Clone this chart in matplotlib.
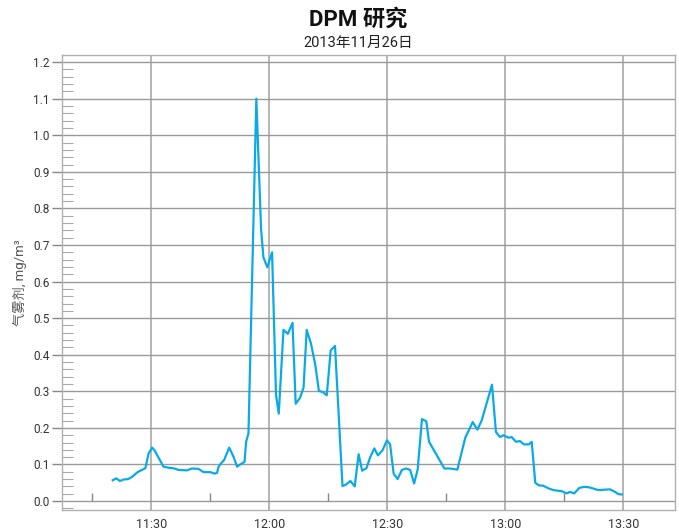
import numpy as np
import pandas as pd
import matplotlib
matplotlib.use("Agg")
import matplotlib.pyplot as plt
import matplotlib.dates as mdates
from matplotlib.ticker import MultipleLocator, FormatStrFormatter

plt.rcParams['font.family'] = ['Roboto', 'Noto Sans CJK SC', 'DejaVu Sans']

# sample times and aerosol concentration (mg/m3)
times = ["11:20:12", "11:21:06", "11:22:00", "11:23:00", "11:24:06", "11:25:06",
         "11:26:30", "11:27:36", "11:28:30", "11:29:18", "11:30:12", "11:30:48",
         "11:33:06", "11:34:24", "11:35:54", "11:36:54", "11:39:06", "11:40:18",
         "11:42:00", "11:43:18", "11:45:00", "11:46:06", "11:46:42", "11:47:06",
         "11:47:48", "11:48:30", "11:49:48", "11:50:54", "11:51:48", "11:52:36",
         "11:53:42", "11:54:06", "11:54:42", "11:56:42", "11:57:54", "11:58:30",
         "11:59:30", "12:00:42", "12:01:42", "12:02:24", "12:03:36", "12:04:42",
         "12:05:54", "12:06:42", "12:07:48", "12:08:42", "12:09:30", "12:10:36",
         "12:11:42", "12:12:36", "12:13:36", "12:14:36", "12:15:36", "12:16:42",
         "12:18:36", "12:19:30", "12:20:36", "12:21:42", "12:22:42", "12:23:36",
         "12:24:42", "12:25:36", "12:26:42", "12:27:36", "12:28:48", "12:29:54",
         "12:30:42", "12:31:36", "12:32:36", "12:33:42", "12:34:48", "12:35:48",
         "12:36:48", "12:37:42", "12:38:48", "12:39:54", "12:40:36", "12:44:30",
         "12:45:54", "12:47:48", "12:49:48", "12:51:42", "12:52:54", "12:54:00",
         "12:56:36", "12:57:36", "12:58:36", "12:59:30", "13:00:48", "13:01:36",
         "13:02:42", "13:03:42", "13:04:42", "13:06:00", "13:06:42", "13:07:36",
         "13:08:30", "13:09:36", "13:10:54", "13:12:12", "13:14:18", "13:15:36",
         "13:16:24", "13:17:30", "13:18:48", "13:20:12", "13:21:30", "13:23:36",
         "13:26:36", "13:27:54", "13:28:42", "13:29:36"]
aerosol = [0.057, 0.062, 0.055, 0.059, 0.060, 0.066,
           0.079, 0.085, 0.090, 0.130, 0.146, 0.139,
           0.094, 0.091, 0.089, 0.085, 0.084, 0.089,
           0.088, 0.079, 0.079, 0.075, 0.077, 0.094,
           0.104, 0.112, 0.146, 0.121, 0.094, 0.100,
           0.107, 0.162, 0.185, 1.100, 0.744, 0.666,
           0.639, 0.680, 0.290, 0.239, 0.468, 0.457,
           0.487, 0.266, 0.282, 0.310, 0.468, 0.430,
           0.371, 0.301, 0.298, 0.289, 0.412, 0.424,
           0.041, 0.045, 0.055, 0.040, 0.128, 0.083,
           0.090, 0.119, 0.144, 0.125, 0.139, 0.166,
           0.155, 0.075, 0.060, 0.085, 0.089, 0.085,
           0.048, 0.086, 0.224, 0.218, 0.162, 0.089,
           0.089, 0.086, 0.173, 0.216, 0.195, 0.221,
           0.318, 0.189, 0.175, 0.180, 0.173, 0.175,
           0.162, 0.164, 0.155, 0.155, 0.162, 0.050,
           0.043, 0.042, 0.035, 0.030, 0.027, 0.021,
           0.025, 0.021, 0.036, 0.039, 0.037, 0.030,
           0.032, 0.025, 0.019, 0.018]

day = "2013-11-26 "
t = pd.to_datetime([day + s for s in times])

fig = plt.figure(figsize=(6.79, 5.30), dpi=100)
ax = fig.add_axes([0.0913, 0.0377, 0.9027, 0.8583])

grid_c = '#9a9a9a'
ax.plot(t, aerosol, color='#0aaae6', lw=1.6, zorder=3)

ax.set_xlim(pd.Timestamp(day + "11:07:18"), pd.Timestamp(day + "13:43:06"))
ax.set_ylim(-0.0245, 1.219)

# x axis: labels every 30 min, small marks every 30 min offset by 15
ax.xaxis.set_major_locator(mdates.MinuteLocator(byminute=[0, 30]))
ax.xaxis.set_major_formatter(mdates.DateFormatter('%H:%M'))
ax.tick_params(axis='x', length=0, pad=6, labelsize=9, colors='#333333')
marks = pd.to_datetime([day + s for s in ["11:15", "11:45", "12:15", "12:45", "13:15"]])
ax.vlines(marks, 0, 0.022, color='#888888', lw=1, zorder=2)

# y axis
ax.yaxis.set_major_locator(MultipleLocator(0.1))
ax.yaxis.set_minor_locator(MultipleLocator(0.02))
ax.yaxis.set_major_formatter(FormatStrFormatter('%.1f'))
ax.tick_params(axis='y', which='major', direction='out', length=7, width=1,
               color='#888888', labelsize=8.5, labelcolor='#333333', pad=2)
ax.tick_params(axis='y', which='minor', direction='in', length=8, width=0.8,
               color='#aaaaaa')

ax.grid(axis='y', which='major', color=grid_c, lw=1)
ax.grid(axis='x', which='major', color='#b5b5b5', lw=1.4)
ax.set_axisbelow(True)
for sp in ax.spines.values():
    sp.set_color('#b0b0b0')
    sp.set_linewidth(1)

ax.set_ylabel('气雾剂, mg/m³', fontsize=9.5, color='#555555', labelpad=4)

fig.text(0.527, 0.963, 'DPM 研究', ha='center', va='center',
         fontsize=16, fontweight='bold', color='#111111')
fig.text(0.527, 0.919, '2013年11月26日', ha='center', va='center',
         fontsize=10.5, color='#222222')

fig.savefig('out.png', dpi=100)
